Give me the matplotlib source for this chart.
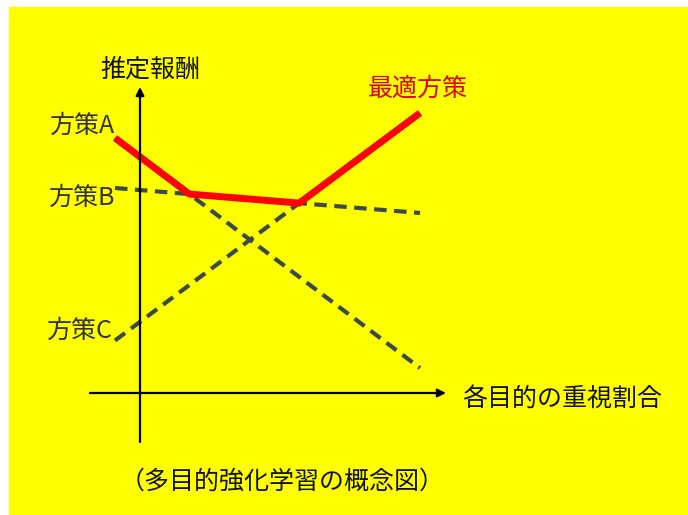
import numpy as np
import matplotlib
matplotlib.use("Agg")
import matplotlib.pyplot as plt
from matplotlib.patches import Rectangle

# ---- data (conceptual linear rewards vs objective weighting) ----
weights = [0.0, 1.0]
policy_A = [10.2, 1.0]
policy_B = [8.2, 7.2]
policy_C = [2.1, 11.2]
policy_names = ["方策A", "方策B", "方策C"]
optimal_label = "最適方策"
y_label = "推定報酬"
x_label = "各目的の重視割合"
caption = "（多目的強化学習の概念図）"

plt.rcParams['font.family'] = ['Noto Sans CJK JP', 'DejaVu Sans']

W, H = 688, 515
fig = plt.figure(figsize=(W / 100, H / 100), dpi=100, facecolor='white')

ax = fig.add_axes([0, 0, 1, 1])
ax.set_facecolor('none')
ax.axis('off')
ax.add_patch(Rectangle((9 / W, 0), 1 - 9 / W, (H - 7) / H,
                       transform=fig.transFigure, facecolor='#ffff00',
                       edgecolor='none', zorder=0, clip_on=False))

# map: w = (px-115)/305, r = (393-py)/25
def px(x, y):
    return (x - 115) / 305, (393 - y) / 25

x0, y0 = px(0, H)
x1, y1 = px(W, 0)
ax.set_xlim(x0, x1)
ax.set_ylim(y0, y1)

dash_color = '#3b4a44'
for vals in (policy_A, policy_B, policy_C):
    ax.plot(weights, vals, color=dash_color, lw=3, linestyle=(0, (3, 1.8)),
            solid_capstyle='butt', dash_capstyle='butt', zorder=2)

# upper envelope (optimal policy) via exact line intersections
lines = [np.polyfit(weights, v, 1) for v in (policy_A, policy_B, policy_C)]
def inter(p, q):
    w = (q[1] - p[1]) / (p[0] - q[0])
    return w, p[0] * w + p[1]
wab, rab = inter(lines[0], lines[1])
wbc, rbc = inter(lines[1], lines[2])
env_w = [weights[0], wab, wbc, weights[1]]
env_r = [policy_A[0], rab, rbc, policy_C[1]]
ax.plot(env_w, env_r, color='#ff0000', lw=5, solid_joinstyle='miter',
        solid_capstyle='butt', zorder=3)

# axes arrows
ax.annotate('', xy=px(446, 393), xytext=px(90, 393),
            arrowprops=dict(arrowstyle='-|>', mutation_scale=12, lw=1.6,
                            color='black', shrinkA=0, shrinkB=0), zorder=4)
ax.annotate('', xy=px(140, 87), xytext=px(140, 442),
            arrowprops=dict(arrowstyle='-|>', mutation_scale=12, lw=1.6,
                            color='black', shrinkA=0, shrinkB=0), zorder=4)

txt_color = '#333333'
fs = 18
ax.text(*px(100, 70), y_label, fontsize=fs, color='#111111', ha='left', va='center')
ax.text(*px(462, 399), x_label, fontsize=fs, color='#111111', ha='left', va='center')
ax.text(*px(282, 482), caption, fontsize=fs, color='#111111', ha='center', va='center')
ax.text(*px(368, 89), optimal_label, fontsize=fs, color='#e00000', ha='left', va='center')
label_pos = [(115, 126), (115, 198), (113, 331)]
for name, (lx, ly) in zip(policy_names, label_pos):
    ax.text(*px(lx, ly), name, fontsize=fs, color=txt_color, ha='right', va='center')

fig.savefig('out.png', dpi=100, facecolor='white')
